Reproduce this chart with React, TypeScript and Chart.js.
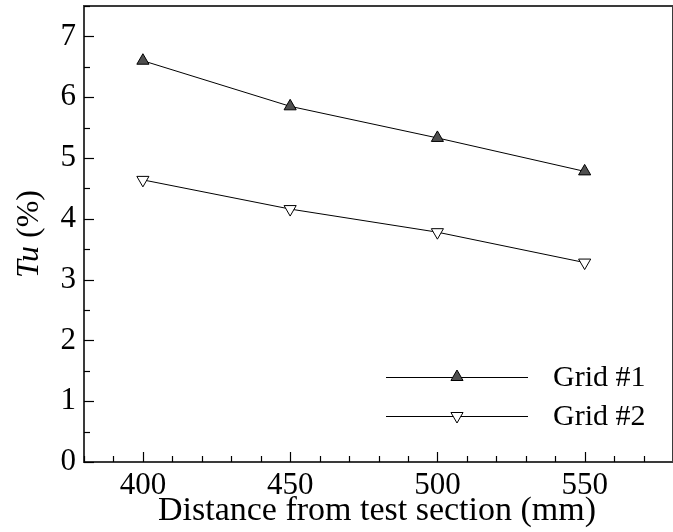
import React, { useEffect, useRef } from "react";
import { Chart, registerables } from "chart.js";

Chart.register(...registerables);

const distances = [400, 450, 500, 550];
const grid1Tu = [6.6, 5.85, 5.33, 4.78];
const grid2Tu = [4.64, 4.16, 3.78, 3.28];
const seriesLabels = ["Grid #1", "Grid #2"];
const xTickValues = [380, 390, 400, 410, 420, 430, 440, 450, 460, 470, 480, 490, 500, 510, 520, 530, 540, 550, 560, 570];
const yTickValues = [0, 0.5, 1, 1.5, 2, 2.5, 3, 3.5, 4, 4.5, 5, 5.5, 6, 6.5, 7, 7.5];
const xTitle = "Distance from test section (mm)";

const FONT = "'Liberation Serif', 'Times New Roman', serif";
const FILL1 = "#4f4f4f";

function triangle(ctx: CanvasRenderingContext2D, x: number, y: number, r: number, down: boolean, fill: string) {
  const half = (r * Math.sqrt(3)) / 2;
  ctx.beginPath();
  if (!down) {
    ctx.moveTo(x, y - r);
    ctx.lineTo(x + half, y + r / 2);
    ctx.lineTo(x - half, y + r / 2);
  } else {
    ctx.moveTo(x, y + r);
    ctx.lineTo(x + half, y - r / 2);
    ctx.lineTo(x - half, y - r / 2);
  }
  ctx.closePath();
  ctx.fillStyle = fill;
  ctx.fill();
  ctx.strokeStyle = "#000";
  ctx.lineWidth = 1;
  ctx.stroke();
}

const framePlugin = {
  id: "frameTicks",
  afterDraw(chart: any) {
    const ctx: CanvasRenderingContext2D = chart.ctx;
    const { left, right, top, bottom } = chart.chartArea;
    const xs = chart.scales.x;
    const ys = chart.scales.y;
    ctx.save();
    ctx.strokeStyle = "#3a3a3a";
    ctx.lineWidth = 2;
    ctx.strokeRect(left, top, right - left, bottom - top);
    ctx.lineWidth = 1.2;
    ctx.strokeStyle = "#000";
    xTickValues.forEach((v) => {
      const px = Math.round(xs.getPixelForValue(v)) + 0.5;
      const len = v % 50 === 0 ? 10 : 6;
      ctx.beginPath();
      ctx.moveTo(px, bottom);
      ctx.lineTo(px, bottom - len);
      ctx.stroke();
    });
    yTickValues.forEach((v) => {
      const py = Math.round(ys.getPixelForValue(v)) + 0.5;
      const len = Number.isInteger(v) ? 10 : 6;
      ctx.beginPath();
      ctx.moveTo(left, py);
      ctx.lineTo(left + len, py);
      ctx.stroke();
    });

    ctx.fillStyle = "#000";
    ctx.font = `34px ${FONT}`;
    ctx.textAlign = "center";
    ctx.textBaseline = "alphabetic";
    ctx.fillText(xTitle, 377, bottom + 58);

    ctx.save();
    const cy = (top + bottom) / 2;
    ctx.translate(38, cy);
    ctx.rotate(-Math.PI / 2);
    ctx.textAlign = "left";
    ctx.font = `italic 32px ${FONT}`;
    const w1 = ctx.measureText("Tu").width;
    ctx.font = `32px ${FONT}`;
    const w2 = ctx.measureText(" (%)").width;
    const start = -(w1 + w2) / 2;
    ctx.font = `italic 32px ${FONT}`;
    ctx.fillText("Tu", start, 0);
    ctx.font = `32px ${FONT}`;
    ctx.fillText(" (%)", start + w1, 0);
    ctx.restore();

    const legendRows = [
      { y: 377, down: false, fill: FILL1, label: seriesLabels[0] },
      { y: 416, down: true, fill: "#fff", label: seriesLabels[1] },
    ];
    legendRows.forEach((r) => {
      ctx.strokeStyle = "#000";
      ctx.lineWidth = 1;
      ctx.beginPath();
      ctx.moveTo(386, r.y + 0.5);
      ctx.lineTo(528, r.y + 0.5);
      ctx.stroke();
      triangle(ctx, 457, r.y, 7, r.down, r.fill);
      ctx.fillStyle = "#000";
      ctx.font = `30px ${FONT}`;
      ctx.textAlign = "left";
      ctx.textBaseline = "middle";
      ctx.fillText(r.label, 553, r.y + 1);
    });
    ctx.restore();
  },
};

function zeroPad(s: any) {
  s.paddingTop = 0;
  s.paddingBottom = 0;
  s.paddingLeft = 0;
  s.paddingRight = 0;
}

export default function App() {
  const ref = useRef<HTMLCanvasElement | null>(null);
  useEffect(() => {
    if (!ref.current) return;
    const chart = new Chart(ref.current, {
      type: "line",
      data: {
        datasets: [
          {
            label: seriesLabels[0],
            data: distances.map((d, i) => ({ x: d, y: grid1Tu[i] })),
            borderColor: "#000",
            borderWidth: 1,
            pointStyle: "triangle",
            pointRadius: 7,
            pointBackgroundColor: FILL1,
            pointBorderColor: "#000",
            pointBorderWidth: 1,
            tension: 0,
          },
          {
            label: seriesLabels[1],
            data: distances.map((d, i) => ({ x: d, y: grid2Tu[i] })),
            borderColor: "#000",
            borderWidth: 1,
            pointStyle: "triangle",
            pointRotation: 180,
            pointRadius: 7,
            pointBackgroundColor: "#fff",
            pointBorderColor: "#000",
            pointBorderWidth: 1,
            tension: 0,
          },
        ],
      },
      options: {
        responsive: false,
        animation: false,
        layout: { autoPadding: false, padding: { top: 6, right: -3, left: 0, bottom: 0 } },
        plugins: { legend: { display: false }, tooltip: { enabled: false } },
        scales: {
          x: {
            type: "linear",
            min: 380,
            max: 580,
            grid: { display: false, drawTicks: false },
            border: { display: false },
            afterBuildTicks: (s: any) => {
              s.ticks = xTickValues.map((v) => ({ value: v }));
            },
            afterFit: (s: any) => {
              s.height = 70;
              zeroPad(s);
            },
            ticks: {
              autoSkip: false,
              maxRotation: 0,
              padding: 5,
              color: "#000",
              font: { family: FONT, size: 31 },
              callback: (v: any) => (Number(v) % 50 === 0 ? String(v) : ""),
            },
          },
          y: {
            type: "linear",
            min: 0,
            max: 7.5,
            grid: { display: false, drawTicks: false },
            border: { display: false },
            afterBuildTicks: (s: any) => {
              s.ticks = yTickValues.map((v) => ({ value: v }));
            },
            afterFit: (s: any) => {
              s.width = 84;
              zeroPad(s);
            },
            ticks: {
              autoSkip: false,
              padding: 8,
              color: "#000",
              font: { family: FONT, size: 31 },
              callback: (v: any) => (Number.isInteger(Number(v)) ? String(v) : ""),
            },
          },
        },
      },
      plugins: [framePlugin],
    });
    return () => chart.destroy();
  }, []);
  return (
    <div style={{ position: "fixed", left: 0, top: 0, width: 673, height: 532, background: "#fff" }}>
      <canvas ref={ref} width={673} height={532} style={{ display: "block" }} />
    </div>
  );
}
